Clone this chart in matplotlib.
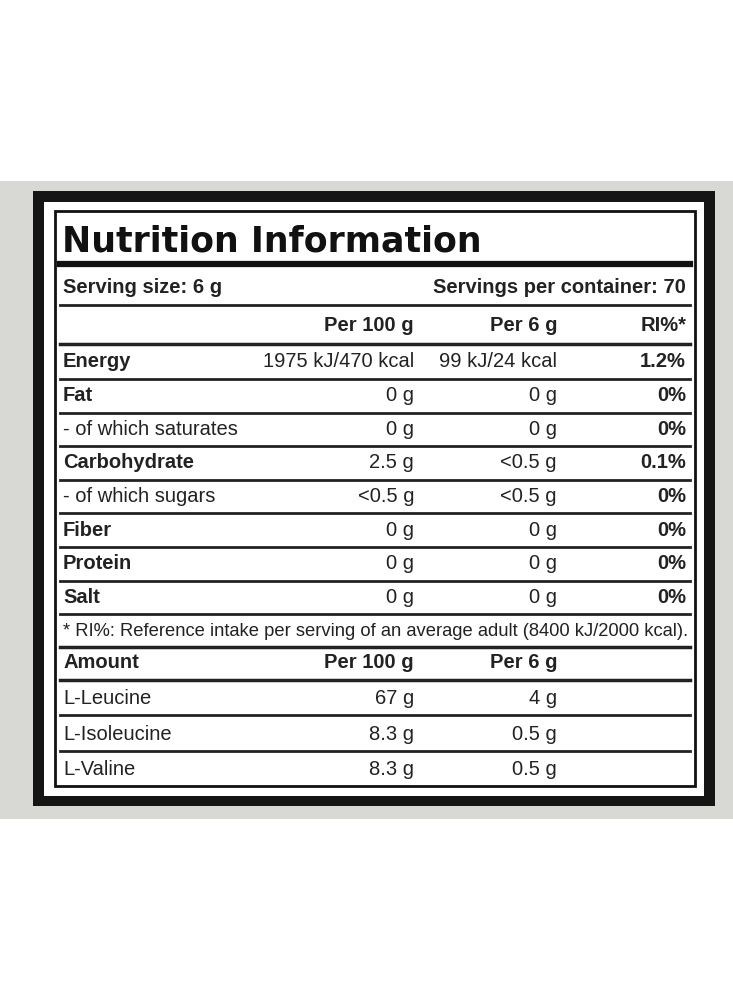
import matplotlib
matplotlib.use("Agg")
import matplotlib.pyplot as plt
from matplotlib.patches import Rectangle

plt.rcParams['font.family'] = ['Liberation Sans Narrow', 'Liberation Sans', 'DejaVu Sans']

title = "Nutrition Information"
serving_left = "Serving size: 6 g"
serving_right = "Servings per container: 70"
header = ["", "Per 100 g", "Per 6 g", "RI%*"]
nutrients = ["Energy", "Fat", "- of which saturates", "Carbohydrate", "- of which sugars", "Fiber", "Protein", "Salt"]
bold_rows = [True, True, False, True, False, True, True, True]
per100 = ["1975 kJ/470 kcal", "0 g", "0 g", "2.5 g", "<0.5 g", "0 g", "0 g", "0 g"]
per6 = ["99 kJ/24 kcal", "0 g", "0 g", "<0.5 g", "<0.5 g", "0 g", "0 g", "0 g"]
ri = ["1.2%", "0%", "0%", "0.1%", "0%", "0%", "0%", "0%"]
footnote = "* RI%: Reference intake per serving of an average adult (8400 kJ/2000 kcal)."
amino_header = ["Amount", "Per 100 g", "Per 6 g"]
aminos = ["L-Leucine", "L-Isoleucine", "L-Valine"]
amino100 = ["67 g", "8.3 g", "8.3 g"]
amino6 = ["4 g", "0.5 g", "0.5 g"]

fig = plt.figure(figsize=(7.33, 10.04), dpi=100)
ax = fig.add_axes([0, 0, 1, 1])
ax.set_xlim(0, 733); ax.set_ylim(1004, 0); ax.axis('off')

ax.add_patch(Rectangle((0, 182), 733, 638, color='#d8d9d4', lw=0))
ax.add_patch(Rectangle((33, 192), 682, 615, color='#151515', lw=0))
ax.add_patch(Rectangle((44, 203), 660, 594, color='white', lw=0))
ax.add_patch(Rectangle((55, 212), 640, 575, fill=False, ec='#111', lw=2))

x0, x1 = 60, 690
c1, c2, c3 = 414, 557, 686
fs = 14.5
col = '#222'

ax.text(62, 242, title, fontsize=25, fontweight='heavy', family='DejaVu Sans', va='center', color='#111')
ax.plot([x0, x1], [265, 265], color='#111', lw=4.5)
ax.text(63, 288, serving_left, fontsize=fs, fontweight='bold', va='center', color=col)
ax.text(c3, 288, serving_right, fontsize=fs, fontweight='bold', va='center', ha='right', color=col)
ax.plot([x0, x1], [306, 306], color='#222', lw=2)
for x, h in zip([c1, c2, c3], header[1:]):
    ax.text(x, 326, h, fontsize=fs, fontweight='bold', va='center', ha='right', color=col)
ax.plot([x0, x1], [345, 345], color='#222', lw=2.5)

y = 362
for i, n in enumerate(nutrients):
    w = 'bold' if bold_rows[i] else 'normal'
    ax.text(63, y, n, fontsize=fs, fontweight=w, va='center', color=col)
    ax.text(c1, y, per100[i], fontsize=fs, va='center', ha='right', color=col)
    ax.text(c2, y, per6[i], fontsize=fs, va='center', ha='right', color=col)
    ax.text(c3, y, ri[i], fontsize=fs, fontweight='bold', va='center', ha='right', color=col)
    ax.plot([x0, x1], [y + 18, y + 18], color='#222', lw=2)
    y += 33.6
ax.text(63, 632, footnote, fontsize=13.2, va='center', color=col)
ax.plot([x0, x1], [648, 648], color='#222', lw=2.5)
ax.text(63, 663, amino_header[0], fontsize=fs, fontweight='bold', va='center', color=col)
ax.text(c1, 663, amino_header[1], fontsize=fs, fontweight='bold', va='center', ha='right', color=col)
ax.text(c2, 663, amino_header[2], fontsize=fs, fontweight='bold', va='center', ha='right', color=col)
ax.plot([x0, x1], [681, 681], color='#222', lw=2.5)
y = 699
for i, a in enumerate(aminos):
    ax.text(63, y, a, fontsize=fs, va='center', color=col)
    ax.text(c1, y, amino100[i], fontsize=fs, va='center', ha='right', color=col)
    ax.text(c2, y, amino6[i], fontsize=fs, va='center', ha='right', color=col)
    if i < 2:
        ax.plot([x0, x1], [y + 17, y + 17], color='#222', lw=2)
    y += 35.5

fig.savefig('out.png', dpi=100)
